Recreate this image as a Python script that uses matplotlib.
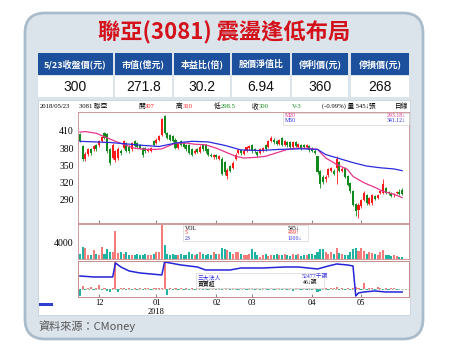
import matplotlib
matplotlib.use('Agg')
import matplotlib.pyplot as plt
from matplotlib.patches import FancyBboxPatch, Rectangle

plt.rcParams['font.family'] = ['Liberation Serif', 'Noto Sans CJK TC']

W, H = 450, 356

title = '聯亞(3081) 震盪逢低布局'
head_labels = ['5/23收盤價(元)', '市值(億元)', '本益比(倍)', '股價淨值比', '停利價(元)', '停損價(元)']
head_values = ['300', '271.8', '30.2', '6.94', '360', '268']

# daily candles, 2017/11 ~ 2018/05/23
opens = [404, 384, 362, 370, 378, 378, 386, 385, 392, 406,
         404, 378, 363, 360, 363, 375, 381, 389, 383, 378,
         392, 389, 386, 381, 381, 375, 376, 392, 389, 395,
         403, 436, 406, 403, 401, 395, 380, 392, 389, 385,
         386, 378, 372, 378, 374, 386, 386, 378, 369, 364,
         368, 362, 362, 356, 331, 349, 346, 361, 372, 377,
         370, 376, 380, 386, 378, 373, 372, 376, 385, 383,
         392, 395, 392, 387, 398, 386, 391, 390, 383, 391,
         383, 386, 386, 382, 384, 380, 376, 366, 341, 330,
         326, 334, 340, 341, 345, 356, 340, 345, 331, 320,
         305, 283, 272, 280, 290, 298, 283, 284, 297, 294,
         303, 303, 310, 304, 302, 298, 302, 304, 307]
highs = [407, 386, 374, 380, 380, 386, 388, 394, 402, 408,
         406, 380, 389, 377, 382, 378, 395, 391, 386, 391,
         394, 391, 388, 383, 383, 380, 383, 394, 397, 403,
         432, 438, 408, 405, 403, 397, 391, 394, 391, 387,
         388, 380, 378, 380, 385, 388, 388, 380, 371, 370,
         370, 368, 364, 358, 345, 351, 357, 371, 379, 379,
         378, 384, 386, 388, 380, 376, 380, 382, 387, 394,
         401, 397, 394, 396, 400, 395, 393, 392, 392, 393,
         389, 388, 388, 387, 386, 382, 378, 367, 343, 333,
         334, 346, 348, 344, 367, 358, 347, 347, 333, 322,
         307, 285, 284, 292, 305, 300, 296, 300, 299, 301,
         308, 326, 312, 306, 304, 303, 306, 309, 310]
lows = [390, 357, 358, 367, 369, 376, 376, 383, 390, 396,
        372, 350, 361, 356, 360, 369, 379, 373, 372, 376,
        382, 380, 378, 365, 372, 373, 374, 384, 387, 393,
        401, 404, 396, 393, 390, 378, 378, 384, 381, 376,
        370, 366, 370, 372, 372, 376, 372, 366, 364, 362,
        362, 360, 333, 334, 326, 338, 344, 359, 370, 369,
        368, 374, 377, 372, 372, 365, 370, 374, 376, 381,
        390, 388, 386, 385, 384, 384, 383, 380, 381, 382,
        381, 377, 380, 380, 374, 373, 370, 335, 310, 318,
        322, 330, 338, 333, 318, 339, 338, 328, 314, 303,
        280, 262, 258, 276, 288, 282, 281, 282, 290, 292,
        300, 301, 300, 299, 295, 296, 300, 299, 298.5]
closes = [393, 362, 370, 378, 372, 384, 379, 392, 400, 398,
          376, 355, 386, 375, 378, 372, 392, 376, 375, 389,
          384, 383, 381, 369, 375, 378, 381, 386, 395, 401,
          430, 406, 398, 395, 392, 381, 389, 386, 383, 378,
          372, 369, 375, 374, 383, 378, 375, 369, 366, 368,
          364, 366, 336, 338, 343, 340, 355, 369, 377, 372,
          376, 382, 384, 375, 375, 368, 378, 380, 378, 392,
          398, 390, 388, 394, 386, 393, 385, 382, 390, 384,
          387, 379, 382, 385, 377, 376, 372, 338, 318, 322,
          330, 344, 346, 336, 361, 341, 344, 330, 316, 305,
          282, 270, 282, 290, 303, 284, 294, 298, 292, 299,
          306, 317, 302, 302, 297, 301, 304, 301, 300]
volume = [1200, 3100, 2700, 1000, 900, 2200, 1200, 1000, 3100, 1200,
          2500, 1800, 1800, 7000, 1400, 1800, 1200, 1800, 1000, 900,
          1000, 1200, 1000, 900, 1200, 1000, 900, 1200, 1700, 1800,
          8500, 3500, 1200, 1000, 1200, 1000, 900, 1200, 1000, 1000,
          1800, 1200, 1000, 1200, 1800, 1200, 1000, 1200, 900, 1800,
          1200, 1200, 2700, 2500, 2200, 1800, 1200, 1800, 1800, 1200,
          1000, 900, 1200, 2500, 1700, 1000, 600, 1000, 1200, 700,
          1000, 900, 1200, 900, 1000, 1200, 1000, 700, 1200, 900,
          1200, 700, 900, 1000, 1200, 1200, 900, 1800, 2500, 2500,
          1700, 1200, 1800, 1200, 2800, 1400, 1200, 900, 1000, 1700,
          2500, 2700, 2000, 2700, 2000, 1200, 1800, 1400, 1200, 1000,
          1800, 2200, 900, 1000, 700, 1000, 700, 500, 545]
inst_net = [-2000, 1000, -300, 200, 600, -300, 300, 1200, -400, 300,
            -600, -1000, 400, 8200, -1000, 300, 200, -300, 200, -200,
            300, -300, 200, -400, 300, 200, -300, 200, 300, 400,
            300, 8200, -1800, 300, -200, 200, -300, 200, -200, 300,
            -200, 200, -300, 300, 200, -200, 300, -300, 200, 300,
            -400, 300, -300, 200, 400, -200, 300, 200, -300, 200,
            300, -200, 200, 300, -300, 200, -200, 300, 200, -300,
            500, -200, 300, 200, -300, 600, -200, 300, -500, 200,
            300, -200, 200, -300, 200, -300, 200, -1000, -600, 300,
            400, -300, 200, 300, 500, -300, 200, -200, 300, -300,
            200, 700, 400, -400, 1700, -300, 200, 300, -200, 700,
            300, -300, 200, -200, 300, 200, -200, 100, -46]

ma20_idx = [0, 2, 6, 10, 13, 17, 20, 24, 28, 30, 33, 35, 39, 42, 46, 50, 53, 57,
            60, 64, 68, 72, 76, 79, 83, 87, 90, 94, 98, 100, 104, 108, 111, 115, 118]
ma20_val = [408, 409, 406, 398, 392, 385, 380, 378, 378, 379, 385, 389, 389, 387, 386, 380, 374, 366,
            363, 364, 366, 372, 378, 380, 380, 378, 363, 352, 343, 331, 320, 312, 305, 300, 294]
ma50_idx = [0, 11, 23, 29, 35, 41, 47, 53, 59, 66, 73, 81, 87, 90, 95, 100, 105, 110, 115, 118]
ma50_val = [392, 390, 385, 383, 389, 392, 391, 385, 377, 376, 378, 379, 378, 369, 362, 355, 349, 346, 344, 341]

hold_idx = [0, 5, 12, 13, 15, 18, 22, 26, 30, 31, 33, 37, 43, 46, 50, 55, 59, 67, 75, 80,
            87, 91, 94, 98, 100, 101, 102, 104, 108, 112, 118]
hold_val = [68500, 67500, 67500, 81500, 77500, 73500, 71500, 70500, 69500, 82500,
            81500, 79500, 77500, 74500, 74500, 74500, 76500, 76500, 77500, 77500,
            75500, 78500, 80500, 79500, 78500, 48500, 51500, 52500, 53500, 52500, 52477]

month_pos = [7, 28, 50, 63, 85, 103]
month_lab = ['12', '01', '02', '03', '04', '05']

UP, DN = '#ff1a1a', '#108a1c'
VUP, VDN = '#f57a7a', '#1fb3a4'
EDGE = '#c58a8a'


def box(x0, y0, x1, y1):
    return [x0 / W, 1 - y1 / H, (x1 - x0) / W, (y1 - y0) / H]


fig = plt.figure(figsize=(4.5, 3.56), dpi=100)

bg = fig.add_axes([0, 0, 1, 1], zorder=0)
bg.set_xlim(0, W)
bg.set_ylim(H, 0)
bg.axis('off')
bg.add_patch(FancyBboxPatch((25, 13), 398, 326, boxstyle='round,pad=0,rounding_size=20',
                            fc='#dce4eb', ec='#a9bccb', lw=2))
bg.add_patch(Rectangle((38, 100), 372, 215, fc='white', ec='#c9d2da', lw=0.6))
bg.text(224, 33, title, color='#d3121c', fontsize=16, fontweight='bold',
        family=['Noto Sans CJK TC'], ha='center', va='center')

cols = [(38, 113), (115, 172), (174, 230), (232, 290), (292, 348), (351, 409)]
for (x0, x1), lab, val in zip(cols, head_labels, head_values):
    bg.add_patch(Rectangle((x0, 53), x1 - x0, 22, fc='#1c4f9c', ec='none'))
    bg.add_patch(Rectangle((x0, 76), x1 - x0, 21, fc='white', ec='none'))
    bg.text((x0 + x1) / 2, 64.5, lab, color='white', fontsize=6.5, fontweight='bold',
            family=['Noto Sans CJK TC'], ha='center', va='center')
    bg.text((x0 + x1) / 2, 87, val, color='#111111', fontsize=10,
            family=['Liberation Sans'], ha='center', va='center')

bg.text(38, 326, '資料來源：CMoney', color='#555555', fontsize=8,
        family=['Noto Sans CJK TC'], ha='left', va='center')
bg.add_patch(Rectangle((39, 303), 14, 3, fc='#2f3fd0', ec='none'))

n = len(closes)
xs = list(range(n))
xlim = (-0.7, 120.5)

# price panel
ax = fig.add_axes(box(78, 112, 409, 223), zorder=2)
cols_c = [UP if c >= o else DN for o, c in zip(opens, closes)]
ax.vlines(xs, lows, highs, colors=cols_c, lw=0.6)
ax.bar(xs, [abs(c - o) for o, c in zip(opens, closes)], bottom=[min(o, c) for o, c in zip(opens, closes)],
       width=0.75, color=cols_c, lw=0)
ax.plot(ma20_idx, ma20_val, color='#e8338d', lw=0.9)
ax.plot(ma50_idx, ma50_val, color='#2b2be0', lw=0.9)
ax.set_xlim(*xlim)
ax.set_ylim(250, 443)
ax.set_yticks([290, 320, 350, 380, 410])
ax.set_xticks(month_pos)
ax.set_xticklabels([])
ax.tick_params(axis='y', length=0, pad=3, labelsize=7)
ax.tick_params(axis='x', length=2, direction='in', color='#888888')

# volume panel
av = fig.add_axes(box(78, 224, 409, 259), zorder=2)
vcols = [VUP if c >= o else VDN for o, c in zip(opens, closes)]
av.bar(xs, volume, width=0.75, color=vcols, lw=0)
av.set_xlim(*xlim)
av.set_ylim(0, 8750)
av.set_yticks([4000])
av.set_xticks([])
av.tick_params(axis='y', length=0, pad=3, labelsize=7)

# institutional panel
ai = fig.add_axes(box(78, 261, 409, 297), zorder=2)
ncols = [VUP if v > 0 else VDN for v in inst_net]
ai.bar(xs, inst_net, width=0.75, color=ncols, lw=0)
ai.axhline(0, color='#8aa88a', lw=0.6, ls=(0, (2, 2)))
ai.set_xlim(*xlim)
ai.set_ylim(-2400, 8400)
ai.set_yticks([])
ai.set_xticks(month_pos)
ai.set_xticklabels(month_lab)
ai.tick_params(axis='x', length=2, direction='in', color='#888888', pad=1.5, labelsize=6)
ah = ai.twinx()
ah.plot(hold_idx, hold_val, color='#2424d8', lw=1.1)
ah.set_ylim(47477, 83477)
ah.set_yticks([])

for a in (ax, av, ai, ah):
    for s in a.spines.values():
        s.set_color(EDGE)
        s.set_linewidth(0.6)

# overlay texts
fg = fig.add_axes([0, 0, 1, 1], zorder=5)
fg.set_xlim(0, W)
fg.set_ylim(H, 0)
fg.axis('off')
fg.patch.set_alpha(0)

fs = 4.8
hy = 106
fg.text(40, hy, '2018/05/23', fontsize=fs, va='center')
fg.text(79, hy, '3081 聯亞', fontsize=fs, va='center')
fg.text(138, hy, '開', fontsize=fs, va='center')
fg.text(145, hy, '307', fontsize=fs, va='center', color=UP)
fg.text(176, hy, '高', fontsize=fs, va='center')
fg.text(183, hy, '310', fontsize=fs, va='center', color=UP)
fg.text(214, hy, '低', fontsize=fs, va='center')
fg.text(221, hy, '298.5', fontsize=fs, va='center', color=DN)
fg.text(252, hy, '收', fontsize=fs, va='center')
fg.text(259, hy, '300', fontsize=fs, va='center', color=DN)
fg.text(292, hy, 'V-3', fontsize=fs, va='center', color=DN)
fg.text(322, hy, '(-0.99%) 量 545↓張', fontsize=fs, va='center')
fg.text(408, hy, '日線', fontsize=fs, va='center', ha='right')

fg.add_patch(Rectangle((283, 112.5), 125.5, 12, fc='white', ec='#cccccc', lw=0.4))
fg.text(285, 115.5, 'M20', fontsize=4.2, va='center', color='#e8338d')
fg.text(406, 115.5, '293.18↓', fontsize=4.2, va='center', ha='right', color='#e8338d')
fg.text(285, 121, 'M50', fontsize=4.2, va='center', color='#2b2be0')
fg.text(406, 121, '341.12↓', fontsize=4.2, va='center', ha='right', color='#2b2be0')

fg.add_patch(Rectangle((183, 224.5), 125, 16.5, fc='white', ec='#cccccc', lw=0.4))
fg.text(185, 228, 'VOL', fontsize=4.2, va='center')
fg.text(185, 233, '5', fontsize=4.2, va='center', color=UP)
fg.text(185, 238, '23', fontsize=4.2, va='center', color='#2b2be0')
fg.text(288, 228, '545↓', fontsize=4.2, va='center')
fg.text(288, 233, '459↑', fontsize=4.2, va='center', color=UP)
fg.text(288, 238, '1100↓', fontsize=4.2, va='center', color='#2b2be0')

fg.add_patch(Rectangle((196, 273), 128, 14.5, fc='white', ec='#cccccc', lw=0.4))
fg.text(198, 277, '三大法人', fontsize=4.2, va='center', color='#2b2be0')
fg.text(198, 283, '買賣超', fontsize=4.2, va='center')
fg.text(302, 277, '52477千張', fontsize=4.2, va='center', color='#2b2be0')
fg.text(303, 283, '46↓張', fontsize=4.2, va='center')

fg.text(156, 311.5, '2018', fontsize=6, ha='center', va='center')

fig.savefig('out.png', dpi=100)
